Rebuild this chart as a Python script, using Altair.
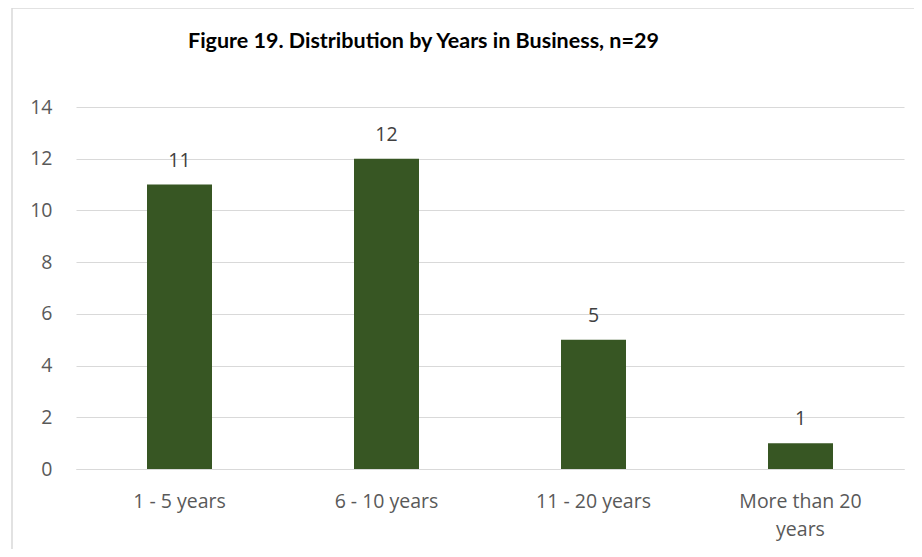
import altair as alt
import pandas as pd

categories = ["1 - 5 years", "6 - 10 years", "11 - 20 years", "More than 20 years"]
counts = [11, 12, 5, 1]
y_ticks = [0, 2, 4, 6, 8, 10, 12, 14]
title_text = "Figure 19. Distribution by Years in Business, n=29"

df = pd.DataFrame({"category": categories, "count": counts})

W, H = 828, 362
FONT = "Open Sans"

x_enc = alt.X(
    "category:N",
    sort=categories,
    title=None,
    scale=alt.Scale(paddingInner=0.686, paddingOuter=0.343),
    axis=alt.Axis(
        labelAngle=0,
        ticks=False,
        domain=True,
        domainColor="#d9d9d9",
        domainWidth=1,
        labelFont=FONT,
        labelFontSize=19.5,
        labelColor="#595959",
        labelPadding=23,
        labelLineHeight=28,
        labelExpr="datum.label == 'More than 20 years' ? ['More than 20', 'years'] : datum.label",
    ),
)
y_enc = alt.Y(
    "count:Q",
    title=None,
    scale=alt.Scale(domain=[0, 14], nice=False),
    axis=alt.Axis(
        values=y_ticks,
        ticks=False,
        domain=False,
        grid=True,
        gridColor="#d9d9d9",
        gridWidth=1,
        labelFont=FONT,
        labelFontSize=19.5,
        labelColor="#595959",
        labelPadding=24,
    ),
)

bars = alt.Chart(df).mark_bar(color="#375623").encode(x=x_enc, y=y_enc)
labels = alt.Chart(df).mark_text(
    dy=-18, baseline="alphabetic", font=FONT, fontSize=19.5, color="#404040"
).encode(x=alt.X("category:N", sort=categories), y="count:Q", text="count:Q")

border = alt.Chart(alt.Data(values=[{"a": 1}])).mark_rect(
    fill=None, fillOpacity=0, stroke="#d9d9d9", strokeWidth=1.5, clip=False
).encode(
    x=alt.value(-64), x2=alt.value(W + 40), y=alt.value(-99), y2=alt.value(H + 120)
)

chart = alt.layer(border, bars, labels).properties(
    width=W,
    height=H,
    title=alt.TitleParams(
        text=title_text,
        anchor="start",
        frame="group",
        baseline="alphabetic",
        dx=112,
        dy=62,
        offset=0,
        font="Lato",
        fontSize=21.5,
        fontWeight="bold",
        color="#000000",
    ),
    autosize=alt.AutoSizeParams(type="none"),
    padding={"left": 68, "top": 99, "right": 10, "bottom": 80},
).configure_view(stroke=None)

chart.save("out.html", embed_options={"renderer": "svg", "actions": False})
